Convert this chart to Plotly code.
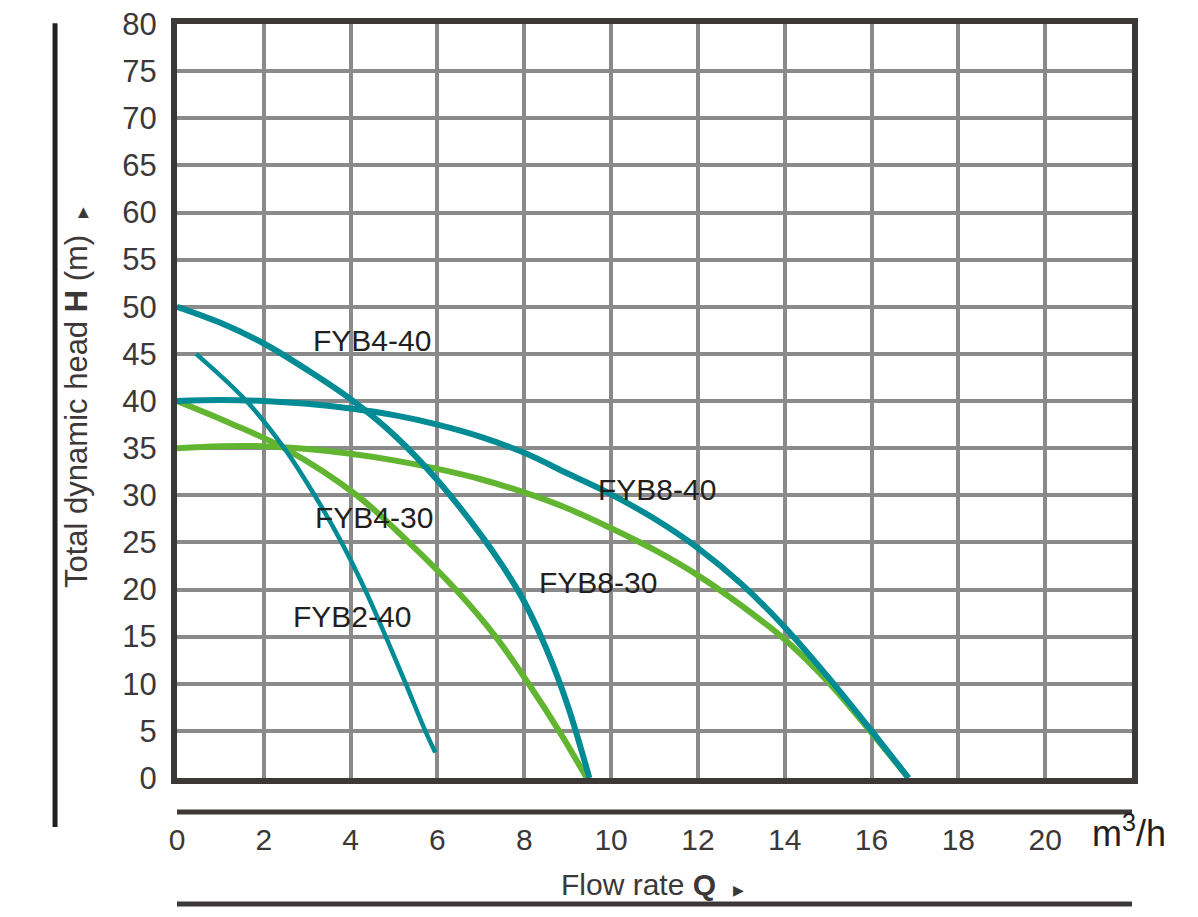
import plotly.graph_objects as go

# pump curves (flow m3/h, head m)
flow_fyb4_40 = [0, 1, 2, 3, 4, 5, 6, 7, 7.5, 8, 8.5, 9, 9.5]
head_fyb4_40 = [50, 48.3, 46.1, 43.3, 40.2, 36.4, 31.6, 25.8, 22.5, 18.7, 13.8, 7.7, 0]

flow_fyb2_40 = [0.44, 1.6, 2.47, 3.17, 3.79, 4.33, 4.81, 5.27, 5.72, 5.95]
head_fyb2_40 = [45, 40, 35, 30, 25, 20, 15, 10, 5, 2.7]

flow_fyb8_40 = [0, 1, 2, 3, 4, 5, 6, 7, 8, 9, 10, 11, 12, 13, 14, 15, 16, 16.85]
head_fyb8_40 = [40, 40.1, 40, 39.7, 39.2, 38.5, 37.5, 36.2, 34.5, 32.3, 30.1, 27.5, 24.4, 20.6, 16.0, 10.7, 5.0, 0]

flow_fyb8_30 = [0, 1, 2, 3, 4, 5, 6, 7, 8, 9, 10, 11, 12, 13, 14, 15, 16, 16.85]
head_fyb8_30 = [35, 35.2, 35.2, 34.9, 34.4, 33.7, 32.8, 31.7, 30.3, 28.6, 26.5, 24.2, 21.5, 18.3, 14.7, 10.2, 4.8, 0]

flow_fyb4_30 = [0, 1.2, 2.47, 4.14, 5.34, 6.42, 7.34, 8.10, 8.80, 9.44]
head_fyb4_30 = [40, 37.7, 35, 30, 25, 20, 15, 10, 5, 0]

label_names = ["FYB4-40", "FYB4-30", "FYB2-40", "FYB8-30", "FYB8-40"]
label_x = [4.5, 4.54, 4.02, 9.7, 11.05]
label_y = [46.4, 27.6, 17.1, 20.7, 30.6]

x_ticks = [0, 2, 4, 6, 8, 10, 12, 14, 16, 18, 20]
y_ticks = list(range(0, 85, 5))

teal = "#008b95"
green = "#62b531"
dark = "#3c3838"
grid = "#8a8a8a"
font_family = "Liberation Sans, Arial, sans-serif"

fig = go.Figure()
fig.add_trace(go.Scatter(x=flow_fyb8_30, y=head_fyb8_30, mode="lines", line=dict(color=green, width=6, shape="spline")))
fig.add_trace(go.Scatter(x=flow_fyb4_30, y=head_fyb4_30, mode="lines", line=dict(color=green, width=6, shape="spline")))
fig.add_trace(go.Scatter(x=flow_fyb8_40, y=head_fyb8_40, mode="lines", line=dict(color=teal, width=6, shape="spline")))
fig.add_trace(go.Scatter(x=flow_fyb4_40, y=head_fyb4_40, mode="lines", line=dict(color=teal, width=6, shape="spline")))
fig.add_trace(go.Scatter(x=flow_fyb2_40, y=head_fyb2_40, mode="lines", line=dict(color=teal, width=4.5, shape="spline")))

for name, lx, ly in zip(label_names, label_x, label_y):
    fig.add_annotation(x=lx, y=ly, text=name, showarrow=False, xanchor="center", yanchor="middle",
                       font=dict(family=font_family, size=30, color="#231f20"))

# extra rules around the axes
fig.add_shape(type="line", xref="paper", yref="paper", x0=-0.1277, x1=-0.1277, y0=1.001, y1=-0.065,
              line=dict(color="#231f20", width=5))
fig.add_shape(type="line", xref="paper", yref="paper", x0=0, x1=1, y0=-0.045, y1=-0.045,
              line=dict(color=dark, width=5))
fig.add_shape(type="line", xref="paper", yref="paper", x0=0, x1=1, y0=-0.167, y1=-0.167,
              line=dict(color=dark, width=5))

fig.add_annotation(xref="paper", yref="paper", x=-0.1047, y=0.504, textangle=-90, showarrow=False,
                   xanchor="center", yanchor="middle",
                   text="Total dynamic head <b>H</b> (m)  <span style='font-size:14px'>▶</span>",
                   font=dict(family=font_family, size=31, color=dark))
fig.add_annotation(xref="paper", yref="paper", x=0.498, y=-0.1406, showarrow=False,
                   xanchor="center", yanchor="middle",
                   text="Flow rate <b>Q</b>  <span style='font-size:14px'>▶</span>",
                   font=dict(family=font_family, size=30, color=dark))
fig.add_annotation(xref="paper", yref="paper", x=0.997, y=-0.0703, showarrow=False,
                   xanchor="center", yanchor="middle",
                   text="m<sup>3</sup>/h",
                   font=dict(family=font_family, size=36, color="#231f20"))

fig.update_xaxes(range=[0, 22], tickvals=x_ticks, showgrid=True, gridcolor=grid, gridwidth=4,
                 showline=True, mirror=True, linecolor=dark, linewidth=6, zeroline=False,
                 ticks="", ticklabelstandoff=30, automargin=False, ticklabeloverflow="allow",
                 tickfont=dict(family=font_family, size=30, color=dark))
fig.update_yaxes(range=[0, 80], tickvals=y_ticks, showgrid=True, gridcolor=grid, gridwidth=4,
                 showline=True, mirror=True, linecolor=dark, linewidth=6, zeroline=False,
                 ticks="", ticklabelstandoff=8, automargin=False, ticklabeloverflow="allow",
                 tickfont=dict(family=font_family, size=31, color=dark))

fig.update_layout(width=1198, height=917, showlegend=False,
                  margin=dict(l=169, r=74, t=16, b=147),
                  plot_bgcolor="white", paper_bgcolor="white")

fig.write_html("out.html")
